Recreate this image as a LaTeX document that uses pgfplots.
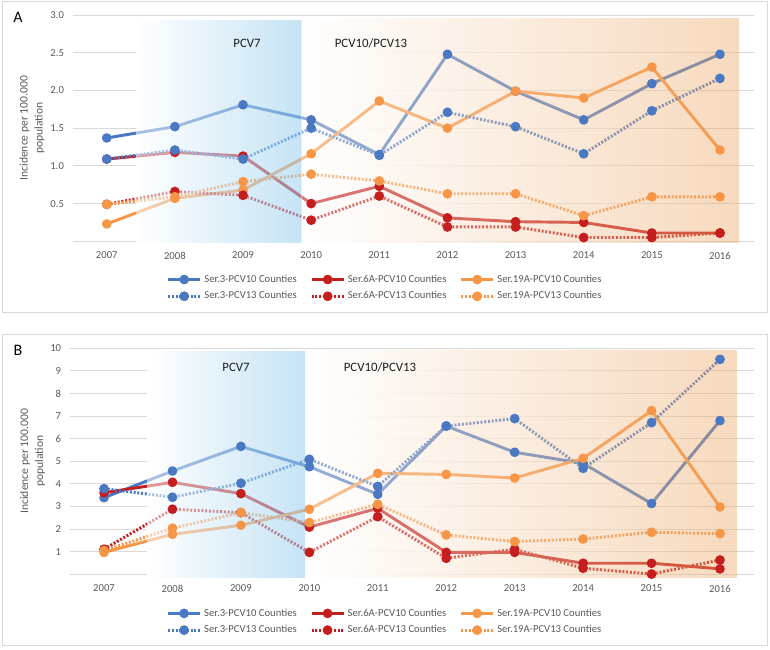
\documentclass[border=0pt]{standalone}
\usepackage{fontspec}
\setmainfont{Carlito}
\usepackage{pgfplots}
\pgfplotsset{compat=1.18}
\usetikzlibrary{fadings}

\definecolor{cthree}{HTML}{4A78C2}
\definecolor{csix}{HTML}{C41E1E}
\definecolor{cnineteen}{HTML}{F79646}
\definecolor{gridgray}{HTML}{D9D9D9}
\definecolor{tickgray}{HTML}{595959}
\definecolor{pcvblue}{HTML}{97CEEF}
\definecolor{pcvorange}{HTML}{EBA25D}
\definecolor{labelblack}{HTML}{1E1E1E}

\tikzfading[name=fadeout, left color=transparent!0, right color=transparent!100]

\pgfplotsset{
  panel/.style={
    scale only axis, anchor=south west,
    xmin=2006.5, xmax=2016.5,
    xtick={2007,2008,2009,2010,2011,2012,2013,2014,2015,2016},
    xticklabels={2007,2008,2009,2010,2011,2012,2013,2014,2015,2016},
    axis line style={draw=none},
    major tick length=0pt,
    ymajorgrids, grid style={color=gridgray, line width=0.75pt},
    tick label style={font=\fontsize{8}{9.5}\selectfont, text=tickgray},
    xticklabel style={yshift=-4.5pt},
    yticklabel style={xshift=-3pt},
    /pgf/number format/assume math mode=true,
    clip=false,
    ylabel={Incidence per 100.000\\population},
    ylabel style={font=\fontsize{8.7}{11.2}\selectfont, text=tickgray, align=center, anchor=center},
    legend columns=3,
    legend cell align=left,
    legend style={draw=none, fill=none, anchor=center,
      font=\fontsize{8}{9.5}\selectfont, text=tickgray,
      /tikz/every even column/.append style={column sep=8pt}, row sep=1.5pt},
    legend image code/.code={\draw[mark repeat=2,mark phase=2]
      plot coordinates {(0pt,0pt)(12pt,0pt)(24pt,0pt)};},
  },
  solidser/.style={color=#1, mark=*, line width=2.2pt, mark size=2.5pt, line join=round},
  dotser/.style={color=#1, mark=*, line width=2.2pt, mark size=2.5pt,
    dash pattern=on 1.5pt off 1.3pt, mark options={solid}},
}

\begin{document}
\begin{tikzpicture}
\path[use as bounding box] (0pt,0pt) rectangle (577.5pt,486.75pt);
\draw[gridgray, line width=0.75pt] (1.5pt,485.25pt) rectangle (575.25pt,252pt);
\draw[gridgray, line width=0.75pt] (1.5pt,235.5pt) rectangle (575.25pt,3pt);

% ---- panel A
\begin{axis}[panel, at={(54.525pt,305.775pt)}, width=511pt, height=169.7pt,
  ymin=0, ymax=3,
  ytick={0,0.5,1,1.5,2,2.5,3},
  yticklabels={,0.5,1.0,1.5,2.0,2.5,3.0},
  ylabel style={at={(axis description cs:-0.0597,0.5)}},
  legend style={at={(0.459,-0.206)}}]
\fill[white] (axis cs:2007.44,-0.02) rectangle (axis cs:2009.86,2.93);
\fill[white, path fading=fadeout] (axis cs:2009.86,-0.02) rectangle (axis cs:2016.27,2.96);
\addplot[solidser=cthree] coordinates {(2007,1.37)(2008,1.52)(2009,1.81)(2010,1.61)(2011,1.15)(2012,2.48)(2013,1.99)(2014,1.61)(2015,2.09)(2016,2.48)};
\addlegendentry{Ser.3-PCV10 Counties}
\addplot[solidser=csix] coordinates {(2007,1.09)(2008,1.18)(2009,1.13)(2010,0.50)(2011,0.73)(2012,0.31)(2013,0.26)(2014,0.25)(2015,0.11)(2016,0.11)};
\addlegendentry{Ser.6A-PCV10 Counties}
\addplot[solidser=cnineteen] coordinates {(2007,0.23)(2008,0.57)(2009,0.68)(2010,1.16)(2011,1.86)(2012,1.50)(2013,1.99)(2014,1.90)(2015,2.31)(2016,1.21)};
\addlegendentry{Ser.19A-PCV10 Counties}
\addplot[dotser=cthree] coordinates {(2007,1.09)(2008,1.21)(2009,1.09)(2010,1.50)(2011,1.14)(2012,1.71)(2013,1.52)(2014,1.16)(2015,1.73)(2016,2.16)};
\addlegendentry{Ser.3-PCV13 Counties}
\addplot[dotser=csix] coordinates {(2007,0.49)(2008,0.66)(2009,0.61)(2010,0.28)(2011,0.60)(2012,0.19)(2013,0.19)(2014,0.05)(2015,0.05)(2016,0.11)};
\addlegendentry{Ser.6A-PCV13 Counties}
\addplot[dotser=cnineteen] coordinates {(2007,0.49)(2008,0.59)(2009,0.79)(2010,0.89)(2011,0.80)(2012,0.63)(2013,0.63)(2014,0.34)(2015,0.59)(2016,0.59)};
\addlegendentry{Ser.19A-PCV13 Counties}
\shade[left color=white, right color=pcvblue, fill opacity=0.55] (axis cs:2007.44,-0.02) rectangle (axis cs:2009.86,2.93);
\shade[left color=white, right color=pcvorange, fill opacity=0.4] (axis cs:2009.86,-0.02) rectangle (axis cs:2016.27,2.96);
\end{axis}

% ---- panel B
\begin{axis}[panel, at={(52.35pt,56.025pt)}, width=513.3pt, height=169.5pt,
  ymin=0, ymax=10,
  ytick={0,1,2,3,4,5,6,7,8,9,10},
  yticklabels={,1,2,3,4,5,6,7,8,9,10},
  ylabel style={at={(axis description cs:-0.0545,0.5)}},
  legend style={at={(0.461,-0.210)}}]
\fill[white] (axis cs:2007.63,-0.12) rectangle (axis cs:2009.94,9.88);
\fill[white, path fading=fadeout] (axis cs:2009.94,-0.12) rectangle (axis cs:2016.24,9.92);
\addplot[solidser=cthree] coordinates {(2007,3.39)(2008,4.57)(2009,5.66)(2010,4.76)(2011,3.54)(2012,6.56)(2013,5.40)(2014,4.91)(2015,3.13)(2016,6.80)};
\addlegendentry{Ser.3-PCV10 Counties}
\addplot[solidser=csix] coordinates {(2007,3.61)(2008,4.07)(2009,3.57)(2010,2.09)(2011,2.92)(2012,0.97)(2013,0.97)(2014,0.49)(2015,0.49)(2016,0.24)};
\addlegendentry{Ser.6A-PCV10 Counties}
\addplot[solidser=cnineteen] coordinates {(2007,0.97)(2008,1.77)(2009,2.17)(2010,2.88)(2011,4.47)(2012,4.42)(2013,4.26)(2014,5.13)(2015,7.24)(2016,2.98)};
\addlegendentry{Ser.19A-PCV10 Counties}
\addplot[dotser=cthree] coordinates {(2007,3.79)(2008,3.41)(2009,4.03)(2010,5.09)(2011,3.89)(2012,6.56)(2013,6.89)(2014,4.69)(2015,6.71)(2016,9.51)};
\addlegendentry{Ser.3-PCV13 Counties}
\addplot[dotser=csix] coordinates {(2007,1.11)(2008,2.88)(2009,2.73)(2010,0.97)(2011,2.55)(2012,0.71)(2013,1.11)(2014,0.27)(2015,0.01)(2016,0.63)};
\addlegendentry{Ser.6A-PCV13 Counties}
\addplot[dotser=cnineteen] coordinates {(2007,1.05)(2008,2.04)(2009,2.73)(2010,2.29)(2011,3.10)(2012,1.74)(2013,1.45)(2014,1.56)(2015,1.86)(2016,1.80)};
\addlegendentry{Ser.19A-PCV13 Counties}
\shade[left color=white, right color=pcvblue, fill opacity=0.55] (axis cs:2007.63,-0.12) rectangle (axis cs:2009.94,9.88);
\shade[left color=white, right color=pcvorange, fill opacity=0.4] (axis cs:2009.94,-0.12) rectangle (axis cs:2016.24,9.92);
\end{axis}

% ---- labels
\node[font=\fontsize{12}{14}\selectfont] at (13.5pt,474pt) {A};
\node[font=\fontsize{12}{14}\selectfont] at (13.5pt,224.25pt) {B};
\node[font=\fontsize{9.6}{11}\selectfont, text=labelblack] at (185.25pt,454.5pt) {PCV7};
\node[font=\fontsize{9.6}{11}\selectfont, text=labelblack] at (278.25pt,454.5pt) {PCV10/PCV13};
\node[font=\fontsize{9.6}{11}\selectfont, text=labelblack] at (177pt,211.5pt) {PCV7};
\node[font=\fontsize{9.6}{11}\selectfont, text=labelblack] at (285pt,211.5pt) {PCV10/PCV13};
\end{tikzpicture}
\end{document}
